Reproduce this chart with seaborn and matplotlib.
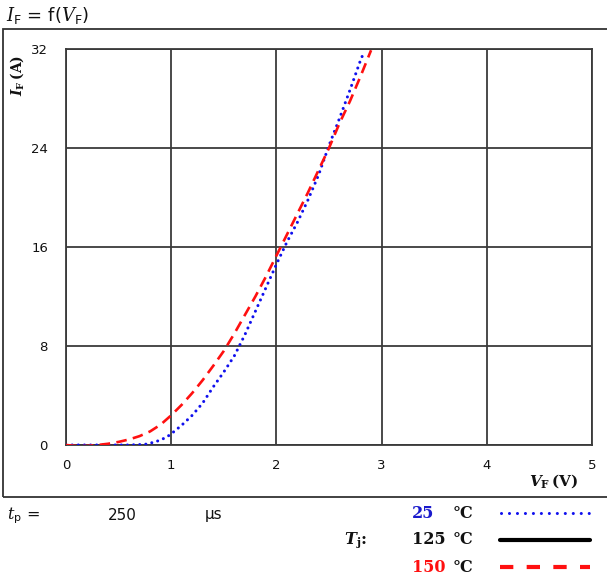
import matplotlib
matplotlib.use("Agg")
import matplotlib.pyplot as plt
import seaborn as sns
import pandas as pd
from matplotlib.lines import Line2D
from matplotlib.patches import Rectangle

# ---- data ----
v_25 = [0.0, 0.6, 0.75, 0.85, 0.95, 1.0, 1.1, 1.2, 1.3, 1.4, 1.5, 1.6, 1.7, 1.8,
        1.9, 2.0, 2.1, 2.2, 2.3, 2.4, 2.5, 2.6, 2.7, 2.8, 2.82]
i_25 = [0.0, 0.0, 0.05, 0.25, 0.6, 0.9, 1.6, 2.4, 3.4, 4.7, 5.9, 7.2, 8.9, 10.8,
        12.7, 14.6, 16.4, 18.0, 19.8, 21.8, 24.2, 26.4, 28.7, 31.1, 31.5]
v_150 = [0.0, 0.1, 0.2, 0.3, 0.4, 0.5, 0.6, 0.7, 0.8, 0.9, 1.0, 1.1, 1.2, 1.3, 1.4,
         1.5, 1.6, 1.7, 1.8, 1.9, 2.0, 2.1, 2.2, 2.3, 2.4, 2.5, 2.6, 2.7, 2.8, 2.9]
i_150 = [0.0, -0.08, -0.08, 0.0, 0.1, 0.25, 0.45, 0.72, 1.1, 1.65, 2.4, 3.25, 4.2,
         5.25, 6.4, 7.6, 9.0, 10.5, 12.0, 13.6, 15.3, 17.0, 18.7, 20.4, 22.2, 24.0,
         26.0, 27.8, 29.8, 31.9]
x_ticks = [0, 1, 2, 3, 4, 5]
y_ticks = [0, 8, 16, 24, 32]

df25 = pd.DataFrame({"V": v_25, "I": i_25})
df150 = pd.DataFrame({"V": v_150, "I": i_150})

sns.set_theme(style="white")
plt.rcParams['font.family'] = ['DejaVu Sans']
plt.rcParams['mathtext.fontset'] = 'custom'
plt.rcParams['mathtext.rm'] = 'DejaVu Sans'
plt.rcParams['mathtext.it'] = 'DejaVu Serif:italic'
plt.rcParams['mathtext.bf'] = 'DejaVu Serif:bold'
plt.rcParams['mathtext.bfit'] = 'DejaVu Serif:italic:bold'

W, H = 607, 578
fig = plt.figure(figsize=(W / 100, H / 100), dpi=100)

def fx(px):
    return px / W

def fy(py):
    return 1 - py / H

ax = fig.add_axes([fx(66), fy(445), fx(592) - fx(66), fy(49) - fy(445)])

grid_c = "#3a3a3a"
sns.lineplot(data=df25, x="V", y="I", ax=ax, color="#1010ee", lw=2.2,
             linestyle=(0, (0.01, 2.0)), dash_capstyle="round", sort=False, zorder=3)
sns.lineplot(data=df150, x="V", y="I", ax=ax, color="#ff1010", lw=1.9,
             linestyle=(0, (4.0, 2.4)), sort=False, zorder=3)

ax.set_xlim(0, 5)
ax.set_ylim(0, 32)
ax.set_xticks(x_ticks)
ax.set_yticks(y_ticks)
ax.set_xticklabels([str(t) for t in x_ticks])
ax.set_yticklabels([str(t) for t in y_ticks])
ax.tick_params(axis="both", length=0, labelsize=9.5, colors="#111111")
ax.tick_params(axis="x", pad=10)
ax.tick_params(axis="y", pad=13)
ax.grid(True, color=grid_c, lw=1.3)
for s in ax.spines.values():
    s.set_color(grid_c)
    s.set_linewidth(1.3)
ax.set_xlabel("")
ax.set_ylabel("")

# outer frame
fig.add_artist(Rectangle((fx(3), fy(497)), fx(620) - fx(3), fy(29) - fy(497),
                         transform=fig.transFigure, fill=False, ec="#333333", lw=1.3))

# title
fig.text(fx(6), fy(16), r"$I_\mathrm{F}$ = f($V_\mathrm{F}$)", fontsize=13,
         va="center", ha="left", color="#111111")

# axis labels
fig.text(fx(17), fy(75), r"$\mathbfit{I}_\mathbf{F}\,\mathbf{(A)}$", rotation=90,
         fontsize=10, va="center", ha="center", color="#111111")
fig.text(fx(554), fy(481), r"$\mathbfit{V}_\mathbf{F}\,\mathbf{(V)}$",
         fontsize=11, va="center", ha="center", color="#111111")

# bottom info
fig.text(fx(7), fy(516), r"$t_\mathrm{p}$ =", fontsize=11.5, va="center",
         ha="left", color="#111111")
fig.text(fx(108), fy(515), "250", fontsize=11, va="center", ha="left",
         color="#111111")
fig.text(fx(205), fy(515), "μs", fontsize=11, va="center", ha="left",
         color="#111111")

serif = "DejaVu Serif"
fs = 11.5
fig.text(fx(412), fy(514), "25", fontsize=fs, fontweight="bold", family=serif,
         color="#1a1acc", va="center", ha="left")
fig.text(fx(473), fy(514), "°C", fontsize=fs, fontweight="bold", family=serif,
         color="#111111", va="center", ha="right")
fig.text(fx(344), fy(540), r"$\mathbfit{T}_\mathbf{j}$:", fontsize=fs,
         family=serif, fontweight="bold", color="#111111", va="center", ha="left")
fig.text(fx(412), fy(540), "125", fontsize=fs, fontweight="bold", family=serif,
         color="#111111", va="center", ha="left")
fig.text(fx(473), fy(540), "°C", fontsize=fs, fontweight="bold", family=serif,
         color="#111111", va="center", ha="right")
fig.text(fx(412), fy(567), "150", fontsize=fs, fontweight="bold", family=serif,
         color="#ff1010", va="center", ha="left")
fig.text(fx(473), fy(567), "°C", fontsize=fs, fontweight="bold", family=serif,
         color="#111111", va="center", ha="right")

fig.add_artist(Line2D([fx(501), fx(590)], [fy(513), fy(513)], color="#1010ee",
                      lw=2.2, linestyle=(0, (0.01, 2.6)), dash_capstyle="round",
                      transform=fig.transFigure))
fig.add_artist(Line2D([fx(500), fx(590)], [fy(540), fy(540)], color="#000000",
                      lw=3.0, transform=fig.transFigure))
fig.add_artist(Line2D([fx(500), fx(590)], [fy(567), fy(567)], color="#ff1010",
                      lw=3.0, linestyle=(0, (3.2, 3.2)), transform=fig.transFigure))

fig.savefig("out.png", dpi=100)
